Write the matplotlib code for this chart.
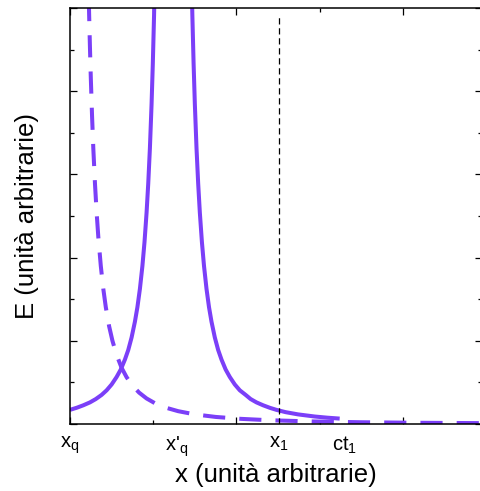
import matplotlib.pyplot as plt
from matplotlib.ticker import MultipleLocator

plt.rcParams['font.family'] = ['Liberation Sans', 'DejaVu Sans']
plt.rcParams['mathtext.fontset'] = 'custom'
plt.rcParams['mathtext.rm'] = 'Liberation Sans'
plt.rcParams['mathtext.it'] = 'Liberation Sans'

# energia del campo
x_sx = [0.00, 0.08, 0.16, 0.24, 0.31, 0.38, 0.44, 0.50, 0.56, 0.61, 0.66, 0.70, 0.74,
        0.78, 0.81, 0.84, 0.87, 0.895, 0.92, 0.94, 0.96, 0.98, 0.995, 1.01, 1.025, 1.04]
e_sx = [0.34, 0.39, 0.45, 0.52, 0.60, 0.70, 0.81, 0.95, 1.13, 1.31, 1.55, 1.78, 2.08,
        2.46, 2.81, 3.25, 3.80, 4.37, 5.08, 5.78, 6.63, 7.69, 8.66, 9.83, 11.25, 13.0]

x_dx = [1.44, 1.455, 1.47, 1.485, 1.50, 1.52, 1.54, 1.56, 1.585, 1.61, 1.64, 1.67, 1.70,
        1.74, 1.78, 1.82, 1.87, 1.92, 1.98, 2.04, 2.11, 2.17, 2.24, 2.32, 2.40, 2.48,
        2.59, 2.74, 2.94, 3.09, 3.24]
e_dx = [13.0, 11.25, 9.83, 8.66, 7.69, 6.63, 5.78, 5.08, 4.37, 3.80, 3.25, 2.81, 2.46,
        2.08, 1.78, 1.55, 1.31, 1.13, 0.95, 0.81, 0.70, 0.60, 0.52, 0.45, 0.39, 0.34,
        0.285, 0.231, 0.18, 0.152, 0.13]

x_tr = [0.21, 0.22, 0.23, 0.24, 0.25, 0.265, 0.28, 0.30, 0.32, 0.34, 0.37, 0.40, 0.43,
        0.47, 0.51, 0.56, 0.62, 0.68, 0.75, 0.83, 0.92, 1.02, 1.15, 1.30, 1.50, 1.75,
        2.05, 2.40, 2.90, 3.50, 4.20, 4.95]
e_tr = [11.79, 10.74, 9.83, 9.03, 8.32, 7.40, 6.63, 5.78, 5.08, 4.50, 3.80, 3.25, 2.81,
        2.35, 2.00, 1.66, 1.35, 1.125, 0.924, 0.755, 0.614, 0.50, 0.393, 0.308, 0.231, 0.170,
        0.124, 0.090, 0.062, 0.042, 0.029, 0.021]

pos_label = [0.0, 1.28, 2.506, 3.3]
txt_label = [r'x$_\mathregular{q}$', r"x'$_\mathregular{q}$", r'x$_\mathregular{1}$', r'ct$_\mathregular{1}$']
x1 = 2.506

viola = '#7b3ff8'

fig = plt.figure(figsize=(4.8, 4.91), dpi=100)
ax = fig.add_axes([70/480, 67/491, 412/480, 416/491])

ax.plot(x_sx, e_sx, color=viola, lw=2.9, solid_capstyle='butt')
ax.plot(x_dx, e_dx, color=viola, lw=2.9, solid_capstyle='butt')
ax.plot(x_tr, e_tr, color=viola, lw=2.9, ls=(0, (5.5, 3.5)))
ax.plot([x1, x1], [0, 9.8], color='black', lw=0.9, ls=(0, (5, 3)))

ax.set_xlim(0, 4.95)
ax.set_ylim(0, 10)
ax.xaxis.set_major_locator(MultipleLocator(2))
ax.xaxis.set_minor_locator(MultipleLocator(1))
ax.yaxis.set_major_locator(MultipleLocator(2))
ax.yaxis.set_minor_locator(MultipleLocator(1))
ax.tick_params(which='both', direction='in', top=True, right=True,
               labelbottom=False, labelleft=False, width=0.9)
ax.tick_params(which='major', length=5)
ax.tick_params(which='minor', length=3)
for s in ax.spines.values():
    s.set_linewidth(1.1)

for p, t in zip(pos_label, txt_label):
    ax.text(p, -0.25, t, ha='center', va='top', fontsize=14.5)

ax.set_xlabel('x (unità arbitrarie)', fontsize=18.5, labelpad=28)
ax.set_ylabel('E (unità arbitrarie)', fontsize=18.5, labelpad=22)

fig.savefig('out.png', dpi=100)
